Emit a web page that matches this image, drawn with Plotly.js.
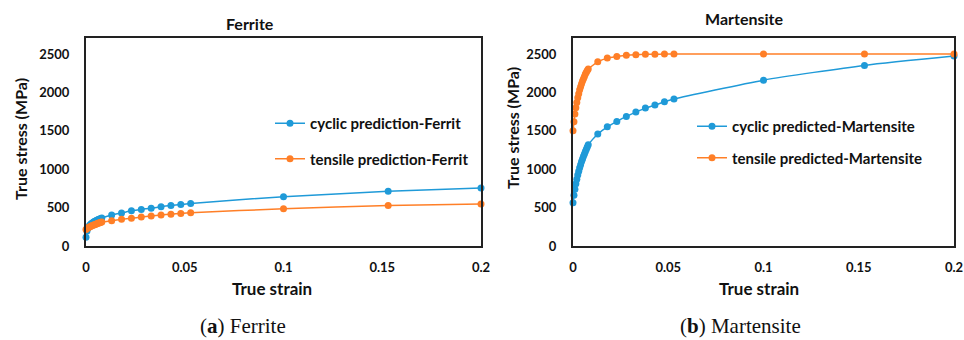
<!DOCTYPE html>
<html><head><meta charset="utf-8">
<script src="https://cdn.plot.ly/plotly-3.0.1.min.js"></script>
<style>html,body{margin:0;padding:0;background:#fff}#c{width:964px;height:340px}</style>
</head><body><div id="c"></div>
<script>
var strain = [0,0.0005,0.001,0.0015,0.002,0.0025,0.003,0.0035,0.004,0.0045,0.005,0.0055,0.006,0.0065,0.007,0.0075,0.008,
  0.013,0.018,0.023,0.028,0.033,0.038,0.043,0.048,0.053,0.1,0.153,0.2];
var ferriteCyclic = [115,195,232,257,274,287,298,307,315,322,329,335,341,347,352,358,364,
  404,430,458,477,492,512,528,540,555,642,712,755];
var ferriteTensile = [215,228,237,245,252,258,264,270,275,280,285,290,295,299,303,308,312,
  330,347,362,377,390,403,415,425,432,486,528,548];
var martCyclic = [565,660,740,810,870,925,975,1020,1060,1100,1135,1170,1200,1230,1260,1290,1320,
  1458,1553,1623,1688,1745,1797,1836,1879,1914,2161,2353,2474];
var martTensile = [1500,1620,1720,1800,1870,1930,1985,2035,2075,2115,2150,2180,2210,2240,2265,2285,2305,
  2400,2448,2468,2485,2493,2497,2499,2500,2500,2500,2500,2500];
var xTicks = [0,0.05,0.1,0.15,0.2];
var xTickText = ['0','0.05','0.1','0.15','0.2'];
var yTicks = [0,500,1000,1500,2000,2500];
var yTickText = ['0','500','1000','1500','2000','2500'];
var names = ['cyclic prediction-Ferrit','tensile prediction-Ferrit','cyclic predicted-Martensite','tensile predicted-Martensite'];

var BLUE = '#1f9ad8', ORANGE = '#ff7f27';
var FONT = 'Lato, "Open Sans", sans-serif';
function tr(y, name, color, xa, ya, leg, grp){
  return {x: strain, y: y, name: name, type: 'scatter', mode: 'lines+markers',
    line: {color: color, width: 1.5, shape: 'spline', smoothing: 0.6},
    marker: {color: color, size: 7}, xaxis: xa, yaxis: ya, legend: leg, legendgroup: grp, cliponaxis: false};
}
var data = [
  tr(ferriteCyclic, names[0], BLUE, 'x', 'y', 'legend', 'a'),
  tr(ferriteTensile, names[1], ORANGE, 'x', 'y', 'legend', 'b'),
  tr(martCyclic, names[2], BLUE, 'x2', 'y2', 'legend2', 'c'),
  tr(martTensile, names[3], ORANGE, 'x2', 'y2', 'legend2', 'd')
];
var W = 964, H = 340;
function px(x){return x/W;}
function py(y){return (H-y)/H;}
function xax(d, anchor){
  return {domain: d, range: [0,0.2], anchor: anchor, tickvals: xTicks, ticktext: xTickText,
    showgrid: false, zeroline: false, showline: true, mirror: true, linecolor: '#222', linewidth: 2,
    ticks: '', ticklabelstandoff: 8, tickfont: {family: FONT, size: 13, color: '#111', weight: 'bold'}, fixedrange: true};
}
function yax(anchor){
  return {domain: [py(246), py(38)], range: [0,2710], anchor: anchor, tickvals: yTicks, ticktext: yTickText,
    showgrid: false, zeroline: false, showline: true, mirror: true, linecolor: '#222', linewidth: 2,
    ticks: '', ticklabelstandoff: 12, tickfont: {family: FONT, size: 13, color: '#111', weight: 'bold'}, fixedrange: true};
}
function ann(text, x, y, size, fam, rot, weight){
  return {text: text, x: px(x), y: py(y), xref: 'paper', yref: 'paper', xanchor: 'center', yanchor: 'middle',
    showarrow: false, textangle: rot || 0, font: {family: fam || FONT, size: size, color: '#111', weight: weight || 'bold'}};
}
function leg(x, y, gap){
  return {x: px(x), y: py(y), xanchor: 'left', yanchor: 'top', bgcolor: 'rgba(0,0,0,0)',
    font: {family: FONT, size: 15, color: '#111', weight: 'bold'}, tracegroupgap: gap, itemwidth: 30};
}
var layout = {
  width: W, height: H, margin: {l: 0, r: 0, t: 0, b: 0}, paper_bgcolor: '#fff', plot_bgcolor: '#fff',
  showlegend: true,
  xaxis: xax([px(86), px(481)], 'y'),
  yaxis: yax('x'),
  xaxis2: xax([px(573), px(954)], 'y2'),
  yaxis2: yax('x2'),
  legend: leg(270, 107, 13),
  legend2: leg(692, 110, 9),
  annotations: [
    ann('Ferrite', 250, 24, 16),
    ann('Martensite', 744, 18, 16),
    ann('True strain', 272, 288, 17),
    ann('True strain', 759, 288, 17),
    ann('True stress (MPa)', 20, 139, 16, null, -90),
    ann('True stress (MPa)', 512, 128, 16, null, -90),
    ann('(<b>a</b>) Ferrite', 243, 326, 21, '"Liberation Serif", serif', 0, 'normal'),
    ann('(<b>b</b>) Martensite', 740, 326, 21, '"Liberation Serif", serif', 0, 'normal')
  ]
};
Plotly.newPlot('c', data, layout, {displayModeBar: false, staticPlot: true});
</script></body></html>
